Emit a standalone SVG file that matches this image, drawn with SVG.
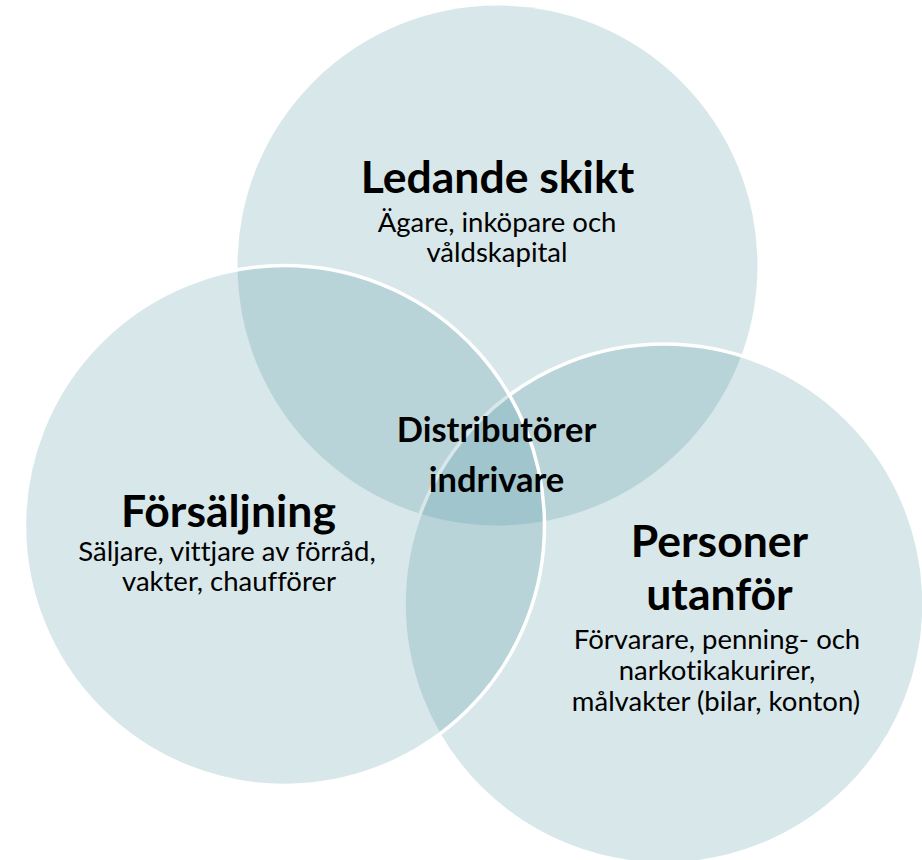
<svg xmlns="http://www.w3.org/2000/svg" width="922" height="860" viewBox="0 0 922 860">
  <style>
    .c { fill: #4e92a0; fill-opacity: 0.22; }
    .s { stroke: #ffffff; stroke-width: 3.5; }
    text { font-family: Lato, "Open Sans", sans-serif; fill: #000000; text-anchor: middle; font-variant-ligatures: none; }
    .h { font-weight: bold; font-size: 44.5px; }
    .m { font-weight: bold; font-size: 34.5px; }
    .b { font-size: 27.5px; }
  </style>
  <rect width="922" height="860" fill="#ffffff"/>
  <g id="ledande">
    <circle class="c" cx="497.5" cy="265.5" r="260"/>
  </g>
  <g id="personer">
    <circle class="c s" cx="664" cy="604" r="260"/>
  </g>
  <g id="forsaljning">
    <circle class="c s" cx="284.5" cy="525.5" r="260"/>
  </g>
  <g id="connectors"/>
  <g id="ledande-text">
    <text class="h" x="497.5" y="193">Ledande skikt</text>
    <text class="b" x="497" y="232">Ägare, inköpare och</text>
    <text class="b" x="497" y="262">våldskapital</text>
  </g>
  <g id="forsaljning-text">
    <text class="h" x="228.5" y="527">Försäljning</text>
    <text class="b" x="227" y="561">Säljare, vittjare av förråd,</text>
    <text class="b" x="229" y="591">vakter, chaufförer</text>
  </g>
  <g id="distributorer">
    <text class="m" x="496.5" y="442">Distributörer</text>
    <text class="m" x="496.5" y="492">indrivare</text>
  </g>
  <g id="personer-text">
    <text class="h" x="719.5" y="557">Personer</text>
    <text class="h" x="719.5" y="610">utanför</text>
    <text class="b" x="717" y="649">Förvarare, penning- och</text>
    <text class="b" x="717" y="680">narkotikakurirer,</text>
    <text class="b" x="716" y="711">målvakter (bilar, konton)</text>
  </g>
</svg>
